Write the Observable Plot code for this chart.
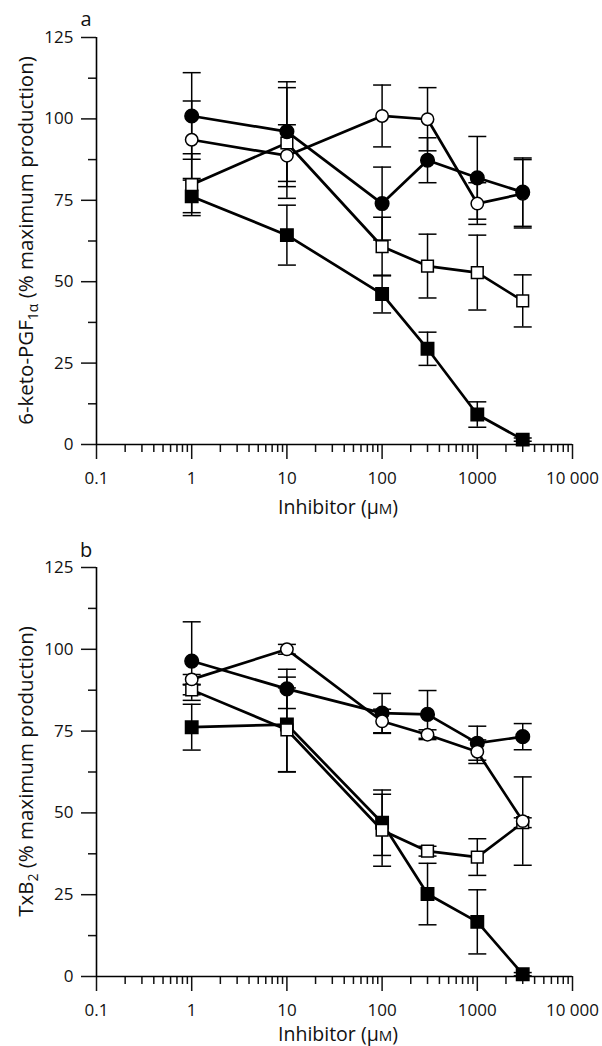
<!DOCTYPE html>
<html>
<head>
<meta charset="utf-8">
<script src="https://cdn.jsdelivr.net/npm/d3@7"></script>
<script src="https://cdn.jsdelivr.net/npm/@observablehq/plot@0.6"></script>
<style>
  html, body { margin: 0; padding: 0; background: #fff; }
  #chart { width: 602px; }
  #chart svg { display: block; }
</style>
</head>
<body>
<div id="chart"></div>
<script>
// ---------- data ----------
const concentrations = [1, 10, 100, 300, 1000, 3000];

// Panel a: 6-keto-PGF1α
const a_filledCircle = [100.9, 96.1, 74.0, 87.3, 81.9, 77.5];
const a_filledCircleErr = [13.3, 15.3, 11.2, 6.9, 12.7, 10.5];
const a_openCircle = [93.6, 88.7, 100.9, 99.9, 74.0, 77.0];
const a_openCircleErr = [11.9, 9.5, 9.5, 9.7, 6.4, 10.5];
const a_openSquare = [79.8, 92.6, 60.8, 54.8, 52.8, 44.1];
const a_openSquareErr = [9.5, 17.0, 9.0, 9.8, 11.5, 8.0];
const a_filledSquare = [76.2, 64.3, 46.2, 29.4, 9.2, 1.5];
const a_filledSquareErr = [5.0, 9.2, 5.8, 5.1, 3.9, 0.5];

// Panel b: TxB2
const b_filledCircle = [96.4, 87.9, 80.5, 80.1, 71.3, 73.3];
const b_filledCircleErr = [12.0, 6.0, 6.0, 7.3, 5.2, 4.0];
const b_openCircle = [90.8, 100.0, 78.0, 73.9, 68.7, 47.5];
const b_openCircleErr = [1.5, 1.5, 3.7, 1.5, 3.6, 13.5];
const b_openSquare = [87.6, 75.4, 44.7, 38.3, 36.5, 47.0];
const b_openSquareErr = [1.5, 12.8, 11.0, 1.5, 5.6, 1.5];
const b_filledSquare = [76.2, 77.0, 47.0, 25.2, 16.7, 0.7];
const b_filledSquareErr = [7.0, 14.5, 10.0, 9.4, 9.8, 0.5];

// ticks
const xMajor = [0.1, 1, 10, 100, 1000, 10000];
const xMajorLabels = ["0.1", "1", "10", "100", "1000", "10 000"];
const xMinor = [0.1, 1, 10, 100, 1000].flatMap(d => [2,3,4,5,6,7,8,9].map(k => k * d));
const yMajor = [0, 25, 50, 75, 100, 125];
const yMinor = [12.5, 37.5, 62.5, 87.5, 112.5];

const FONT = "'Open Sans', 'Noto Sans', sans-serif";
const INK = "#111";

// ---------- helpers ----------
const styles = {
  fc: {symbol: "circle", fill: "black", r: 6.8},
  oc: {symbol: "circle", fill: "white", r: 6.2},
  os: {symbol: "square", fill: "white", r: 6.6},
  fs: {symbol: "square", fill: "black", r: 7.0}
};

function rows(key, ys, es) {
  return concentrations.map((x, i) => ({series: key, x, y: ys[i], e: es[i]}));
}

const capSymbol = {
  draw(ctx) { ctx.moveTo(-9, 0); ctx.lineTo(9, 0); }
};

function panel({height, marginTop, marginBottom, data, order, letter, letterY, titleParts, xTitleOffset}) {
  const marks = [
    Plot.axisY(yMajor, {tickSize: 15, tickPadding: 8, strokeWidth: 1.5, tickFormat: d => String(d), label: null}),
    Plot.axisY(yMinor, {tickSize: 8, strokeWidth: 1.5, tickFormat: () => "", label: null}),
    Plot.axisX(xMajor, {tickSize: 15, tickPadding: 12, strokeWidth: 1.5, tickFormat: d => xMajorLabels[xMajor.indexOf(d)], label: null}),
    Plot.axisX(xMinor, {tickSize: 8, strokeWidth: 1.5, tickFormat: () => "", label: null}),
    Plot.ruleX([0.1], {stroke: "black", strokeWidth: 1.6}),
    Plot.ruleY([0], {stroke: "black", strokeWidth: 1.6}),
    // error bars
    Plot.ruleX(data, {x: "x", y1: d => d.y - d.e, y2: d => d.y + d.e, stroke: "black", strokeWidth: 1.5}),
    Plot.dot(data, {x: "x", y: d => d.y + d.e, symbol: capSymbol, stroke: "black", strokeWidth: 1.5, fill: "none"}),
    Plot.dot(data, {x: "x", y: d => d.y - d.e, symbol: capSymbol, stroke: "black", strokeWidth: 1.5, fill: "none"}),
    // lines
    Plot.line(data, {x: "x", y: "y", z: "series", stroke: "black", strokeWidth: 2.7})
  ];
  for (const key of order) {
    const s = styles[key];
    marks.push(Plot.dot(data.filter(d => d.series === key), {
      x: "x", y: "y", symbol: s.symbol, r: s.r, fill: s.fill, stroke: "black", strokeWidth: 1.5
    }));
  }
  const svg = Plot.plot({
    width: 602, height, marginLeft: 96, marginRight: 30, marginTop, marginBottom,
    x: {type: "log", domain: [0.1, 10000]},
    y: {domain: [0, 125]},
    style: {fontFamily: FONT, fontSize: "17px", color: INK, background: "white", overflow: "visible"},
    marks
  });
  const s = d3.select(svg);
  s.selectAll("text").style("font-size", "17px").style("font-family", FONT);
  const plotTop = marginTop, plotBottom = height - marginBottom;
  // panel letter
  s.append("text").attr("x", 86).attr("y", letterY).attr("text-anchor", "middle")
    .style("font-family", FONT).style("font-size", "20px").attr("fill", INK).text(letter);
  // x title
  const xt = s.append("text").attr("x", 338).attr("y", plotBottom + xTitleOffset).attr("text-anchor", "middle")
    .style("font-family", FONT).style("font-size", "19.5px").attr("fill", INK);
  xt.append("tspan").text("Inhibitor (μ");
  xt.append("tspan").style("font-size", "15px").text("M");
  xt.append("tspan").text(")");
  // y title
  const yt = s.append("text")
    .attr("transform", `translate(33,${(plotTop + plotBottom) / 2}) rotate(-90)`)
    .attr("text-anchor", "middle").style("font-family", FONT).style("font-size", "20.5px").attr("fill", INK);
  yt.append("tspan").text(titleParts[0]);
  yt.append("tspan").style("font-size", "14px").attr("dy", 5).text(titleParts[1]);
  yt.append("tspan").attr("dy", -5).text(titleParts[2]);
  return svg;
}

const dataA = [
  ...rows("fc", a_filledCircle, a_filledCircleErr),
  ...rows("oc", a_openCircle, a_openCircleErr),
  ...rows("os", a_openSquare, a_openSquareErr),
  ...rows("fs", a_filledSquare, a_filledSquareErr)
];
const dataB = [
  ...rows("fc", b_filledCircle, b_filledCircleErr),
  ...rows("oc", b_openCircle, b_openCircleErr),
  ...rows("os", b_openSquare, b_openSquareErr),
  ...rows("fs", b_filledSquare, b_filledSquareErr)
];

const root = document.getElementById("chart");
root.appendChild(panel({
  height: 522, marginTop: 37, marginBottom: 78, data: dataA,
  order: ["fs", "os", "oc", "fc"], letter: "a", letterY: 26,
  titleParts: ["6-keto-PGF", "1α", " (% maximum production)"], xTitleOffset: 70
}));
root.appendChild(panel({
  height: 524, marginTop: 45, marginBottom: 70, data: dataB,
  order: ["fs", "os", "fc", "oc"], letter: "b", letterY: 35,
  titleParts: ["TxB", "2", " (% maximum production)"], xTitleOffset: 65
}));
</script>
</body>
</html>
